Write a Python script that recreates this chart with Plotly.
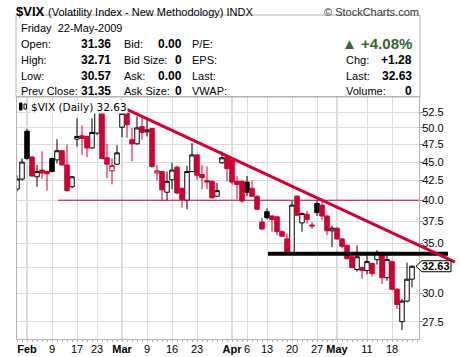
import math
import plotly.graph_objects as go

# ---------------- data ----------------
dates = [
    "2009-01-29", "2009-01-30",
    "2009-02-02", "2009-02-03", "2009-02-04", "2009-02-05", "2009-02-06",
    "2009-02-09", "2009-02-10", "2009-02-11", "2009-02-12", "2009-02-13",
    "2009-02-17", "2009-02-18", "2009-02-19", "2009-02-20",
    "2009-02-23", "2009-02-24", "2009-02-25", "2009-02-26", "2009-02-27",
    "2009-03-02", "2009-03-03", "2009-03-04", "2009-03-05", "2009-03-06",
    "2009-03-09", "2009-03-10", "2009-03-11", "2009-03-12", "2009-03-13",
    "2009-03-16", "2009-03-17", "2009-03-18", "2009-03-19", "2009-03-20",
    "2009-03-23", "2009-03-24", "2009-03-25", "2009-03-26", "2009-03-27",
    "2009-03-30", "2009-03-31",
    "2009-04-01", "2009-04-02", "2009-04-03",
    "2009-04-06", "2009-04-07", "2009-04-08", "2009-04-09",
    "2009-04-13", "2009-04-14", "2009-04-15", "2009-04-16", "2009-04-17",
    "2009-04-20", "2009-04-21", "2009-04-22", "2009-04-23", "2009-04-24",
    "2009-04-27", "2009-04-28", "2009-04-29", "2009-04-30",
    "2009-05-01",
    "2009-05-04", "2009-05-05", "2009-05-06", "2009-05-07", "2009-05-08",
    "2009-05-11", "2009-05-12", "2009-05-13", "2009-05-14", "2009-05-15",
    "2009-05-18", "2009-05-19", "2009-05-20", "2009-05-21", "2009-05-22",
]
opens = [
    41.4, 42.7,
    49.5, 45.7, 43.0, 43.9, 43.7,
    45.5, 45.3, 46.6, 44.6, 41.7,
    48.3, 48.8, 48.7, 47.0,
    49.2, 52.3, 45.6, 43.8, 44.7,
    50.1, 52.3, 48.2, 47.6, 50.2,
    49.4, 49.9, 43.5, 43.7, 41.0,
    42.6, 44.3, 41.5, 40.0, 43.7,
    46.0, 43.3, 42.5, 42.4, 40.5,
    44.9, 45.7,
    45.5, 42.4, 42.4,
    42.3, 41.5, 40.5, 37.4,
    38.6, 38.1, 38.0, 36.3, 35.5,
    34.0, 40.5, 37.3, 38.3, 37.05,
    39.6, 39.4, 38.1, 36.4,
    36.7,
    35.5, 34.8, 33.6, 32.3, 32.5,
    32.2, 32.9, 33.3, 34.0, 31.5,
    33.1, 30.4, 27.5, 29.3, 31.36,
]
highs = [
    43.2, 45.5,
    49.8, 45.8, 44.6, 46.5, 43.8,
    45.6, 48.3, 46.7, 47.5, 43.1,
    51.5, 50.4, 48.8, 51.5,
    53.3, 52.4, 47.6, 45.5, 47.4,
    52.9, 52.5, 50.0, 51.8, 51.8,
    51.2, 50.0, 44.6, 43.8, 43.7,
    44.9, 44.5, 41.6, 44.5, 47.7,
    46.1, 44.6, 44.4, 42.5, 42.2,
    46.5, 45.8,
    45.6, 43.1, 42.5,
    43.1, 42.5, 40.6, 37.9,
    39.0, 38.2, 38.1, 36.4, 36.1,
    39.9, 40.6, 38.5, 38.7, 37.4,
    40.0, 39.8, 38.2, 37.0,
    36.8,
    35.6, 34.9, 33.7, 34.8, 32.6,
    34.0, 33.0, 34.3, 34.1, 34.0,
    33.2, 30.5, 29.5, 33.0, 32.71,
]
lows = [
    41.1, 42.5,
    45.3, 43.0, 41.7, 42.7, 41.2,
    43.6, 44.8, 44.5, 41.1, 41.5,
    47.2, 46.0, 45.7, 46.9,
    48.9, 45.4, 42.8, 42.0, 44.6,
    48.6, 48.5, 45.1, 47.5, 48.2,
    48.7, 44.2, 42.5, 40.0, 40.0,
    41.4, 40.8, 39.1, 38.9, 43.6,
    42.6, 41.4, 41.4, 40.2, 40.4,
    44.8, 42.4,
    42.0, 40.1, 39.7,
    40.5, 40.4, 38.8, 36.5,
    37.7, 36.3, 35.9, 35.7, 33.8,
    33.9, 38.1, 36.3, 37.2, 36.6,
    38.1, 37.6, 35.9, 34.6,
    35.4,
    34.5, 33.3, 32.4, 32.1, 31.4,
    31.8, 31.6, 32.8, 30.9, 31.2,
    30.3, 28.6, 26.8, 29.2, 30.57,
]
closes = [
    42.7, 45.0,
    45.5, 43.1, 43.7, 43.5, 43.4,
    43.7, 46.6, 44.6, 41.2, 43.0,
    48.7, 48.4, 47.0, 49.3,
    52.6, 45.5, 44.7, 44.5, 46.3,
    52.3, 50.5, 47.6, 50.0, 49.3,
    49.7, 44.4, 43.8, 41.3, 42.4,
    43.9, 40.9, 40.1, 43.7, 46.0,
    43.2, 42.9, 42.3, 40.3, 41.2,
    45.6, 44.1,
    42.3, 42.0, 39.9,
    41.0, 40.5, 38.9, 36.6,
    37.9, 37.7, 36.3, 35.8, 33.9,
    39.4, 38.2, 38.4, 37.7, 36.95,
    38.5, 38.1, 36.4, 36.7,
    35.5,
    34.7, 33.4, 32.5, 33.6, 32.2,
    33.1, 31.9, 34.0, 31.5, 33.3,
    30.4, 29.0, 29.3, 31.35, 32.63,
]

tick_dates = ["2009-02-02", "2009-02-09", "2009-02-17", "2009-02-23",
              "2009-03-02", "2009-03-09", "2009-03-16", "2009-03-23",
              "2009-04-01", "2009-04-06", "2009-04-13", "2009-04-20", "2009-04-27",
              "2009-05-01", "2009-05-11", "2009-05-18"]
tick_labels = ["Feb", "9", "17", "23", "Mar", "9", "16", "23",
               "Apr", "6", "13", "20", "27", "May", "11", "18"]
month_ticks = ["2009-02-02", "2009-03-02", "2009-04-01", "2009-05-01"]
y_ticks = [27.5, 30.0, 32.5, 35.0, 37.5, 40.0, 42.5, 45.0, 47.5, 50.0, 52.5]
y_hidden_labels = [32.5]   # covered by the last-price marker in the original

# drawn trend lines (trading-day index, value)
resist_x = [21.0, 87.6]
resist_y = [53.3, 33.05]
support_x = [50.2, 86.2]
support_y = [33.9, 33.9]
level_x = [8.2, 80.4]
level_y = [40.0, 40.0]

# header texts
symbol = "$VIX"
symbol_desc = "(Volatility Index - New Methodology) INDX"
quote_date = "Friday\u00a0\u00a022-May-2009"
col1_labels = ["Open:", "High:", "Low:", "Prev Close:"]
col1_values = ["31.36", "32.71", "30.57", "31.35"]
col2_labels = ["Bid:", "Bid Size:", "Ask:", "Ask Size:"]
col2_values = ["0.00", "0", "0.00", "0"]
col3_labels = ["P/E:", "EPS:", "Last:", "VWAP:"]
pct_change = "+4.08%"
right_labels = ["Chg:", "Last:", "Volume:"]
right_values = ["+1.28", "32.63", "0"]
last_price = 32.63

# ---------------- geometry / style ----------------
W, H = 460, 357
L, R, T, B = 17, 419, 97, 339
X_RANGE = [0, 80.4]
Y_LO, Y_HI = 26.07, 55.0
RED = "#D10032"
GREEN = "#336633"
FONT = "Liberation Sans, Arial, sans-serif"

def pxx(x):
    return (x - L) / (R - L)

def pxy(y):
    return (B - y) / (B - T)

def idx2paper(i):
    return (i - X_RANGE[0]) / (X_RANGE[1] - X_RANGE[0])

def val2paper(v):
    lo, hi = math.log10(Y_LO), math.log10(Y_HI)
    return (math.log10(v) - lo) / (hi - lo)

xs = list(range(len(dates)))

fig = go.Figure()

# candles split into four styles (hollow/filled x black/red)
groups = {}
for i in xs:
    hollow = closes[i] > opens[i]
    up_prev = i == 0 or closes[i] >= closes[i - 1]
    key = (hollow, "black" if up_prev else RED)
    groups.setdefault(key, []).append(i)

for (hollow, col), ids in groups.items():
    fill = "white" if hollow else col
    style = dict(line=dict(color=col, width=1), fillcolor=fill)
    fig.add_trace(go.Candlestick(
        x=ids,
        open=[opens[i] for i in ids],
        high=[highs[i] for i in ids],
        low=[lows[i] for i in ids],
        close=[closes[i] for i in ids],
        increasing=style, decreasing=style,
        whiskerwidth=0, hoverinfo="skip", showlegend=False,
    ))

shapes = []
# darker month gridlines
for d in month_ticks:
    i = dates.index(d)
    shapes.append(dict(type="line", xref="x", yref="paper", x0=i, x1=i, y0=0, y1=1,
                       line=dict(color="#b4b4b4", width=1), layer="below"))
# thin red level line at 40
shapes.append(dict(type="line", xref="x", yref="y", x0=level_x[0], x1=level_x[1],
                   y0=level_y[0], y1=level_y[1], line=dict(color=RED, width=1), layer="above"))
# black support line
shapes.append(dict(type="line", xref="paper", yref="y",
                   x0=idx2paper(support_x[0]), x1=idx2paper(support_x[1]),
                   y0=support_y[0], y1=support_y[1],
                   line=dict(color="black", width=4), layer="above"))
# red down trend line
shapes.append(dict(type="line", xref="paper", yref="y",
                   x0=idx2paper(resist_x[0]), x1=idx2paper(resist_x[1]),
                   y0=resist_y[0], y1=resist_y[1],
                   line=dict(color=RED, width=3), layer="above"))
# header box
shapes.append(dict(type="rect", xref="paper", yref="paper",
                   x0=pxx(16), x1=pxx(420), y0=pxy(97), y1=pxy(15),
                   line=dict(color="#b4b4b4", width=1), fillcolor="rgba(0,0,0,0)"))
# last price marker (pentagon)
yp = val2paper(last_price)
dy = 5.5 / (B - T)
path = "M {} {} L {} {} L {} {} L {} {} L {} {} Z".format(
    pxx(416), yp, pxx(422), yp + dy, pxx(451), yp + dy, pxx(451), yp - dy, pxx(422), yp - dy)
shapes.append(dict(type="path", xref="paper", yref="paper", path=path,
                   line=dict(color="black", width=1), fillcolor="white", layer="above"))
# legend icon on the chart
shapes.append(dict(type="rect", xref="paper", yref="paper", x0=pxx(19.5), x1=pxx(22),
                   y0=pxy(110), y1=pxy(103), fillcolor="black", line=dict(color="black", width=1)))
shapes.append(dict(type="rect", xref="paper", yref="paper", x0=pxx(24), x1=pxx(26.5),
                   y0=pxy(109), y1=pxy(104), fillcolor="white", line=dict(color="black", width=1)))

ann = []

def text(x, y, s, size=11, anchor="left", color="black", bold=False, family=FONT, bg=None):
    a = dict(xref="paper", yref="paper", x=pxx(x), y=pxy(y), showarrow=False,
             text=("<b>%s</b>" % s) if bold else s, xanchor=anchor, yanchor="middle",
             font=dict(family=family, size=size, color=color), borderpad=0)
    if bg:
        a["bgcolor"] = bg
    ann.append(a)

# title row
text(15, 12, symbol, size=13, bold=True)
text(47, 12, symbol_desc, size=11)
text(420, 12, "\u00a9 StockCharts.com", size=11, anchor="right", color="#333333")
# date row
text(20, 28, quote_date, size=11)
rows_y = [44, 60, 76, 91]
for k in range(4):
    text(20, rows_y[k], col1_labels[k], size=11)
    text(112, rows_y[k], col1_values[k], size=12, bold=True, anchor="right")
    text(123, rows_y[k], col2_labels[k], size=11)
    text(183, rows_y[k], col2_values[k], size=12, bold=True, anchor="right")
    text(191, rows_y[k], col3_labels[k], size=11)
# right block
text(413, 43, "\u25B2 " + pct_change, size=15, bold=True, anchor="right", color=GREEN)
for k in range(3):
    text(345, rows_y[k + 1], right_labels[k], size=11)
    text(413, rows_y[k + 1], right_values[k], size=12, bold=True, anchor="right")
# chart legend label
text(30, 106.5, "$VIX (Daily) %.2f" % last_price, size=10.5,
     family="DejaVu Sans, Verdana, sans-serif", bg="white")
# last price text
ann.append(dict(xref="paper", yref="paper", x=pxx(436), y=yp, showarrow=False,
                text="<b>%.2f</b>" % last_price, xanchor="center", yanchor="middle",
                font=dict(family=FONT, size=11, color="black")))

fig.update_layout(
    width=W, height=H, autosize=False,
    margin=dict(l=L, r=W - R, t=T, b=H - B, pad=0),
    paper_bgcolor="white", plot_bgcolor="white",
    showlegend=False, hovermode=False,
    boxgap=0.1, boxgroupgap=0,
    shapes=shapes, annotations=ann,
    font=dict(family=FONT, size=11, color="black"),
    xaxis=dict(
        automargin=False,
        range=X_RANGE, rangeslider=dict(visible=False), fixedrange=True,
        tickmode="array",
        tickvals=[dates.index(d) for d in tick_dates],
        ticktext=[("<b>%s</b>" % t) if d in month_ticks else t
                  for d, t in zip(tick_dates, tick_labels)],
        showgrid=True, gridcolor="#dcdcdc", gridwidth=1,
        showline=True, linecolor="#b4b4b4", linewidth=1, mirror=True,
        ticks="", tickfont=dict(family=FONT, size=11, color="black"),
        minor=dict(tickmode="linear", tick0=0, dtick=1, ticks="outside",
                   ticklen=2, tickcolor="#b4b4b4", showgrid=False),
        zeroline=False,
    ),
    yaxis=dict(
        automargin=False,
        type="log", side="right", fixedrange=True,
        range=[math.log10(Y_LO), math.log10(Y_HI)],
        tickmode="array", tickvals=y_ticks,
        ticktext=["" if v in y_hidden_labels else "%.1f" % v for v in y_ticks],
        showgrid=True, gridcolor="#dcdcdc", gridwidth=1,
        showline=True, linecolor="#b4b4b4", linewidth=1, mirror=True,
        ticks="", tickfont=dict(family=FONT, size=11, color="black"),
        minor=dict(tickmode="array", tickvals=y_ticks, ticks="outside",
                   ticklen=3, tickcolor="#888888", showgrid=False),
        zeroline=False,
    ),
)

fig.write_html("out.html", config={"displayModeBar": False},
               post_script="document.body.style.margin='0';document.body.style.overflow='hidden';")
